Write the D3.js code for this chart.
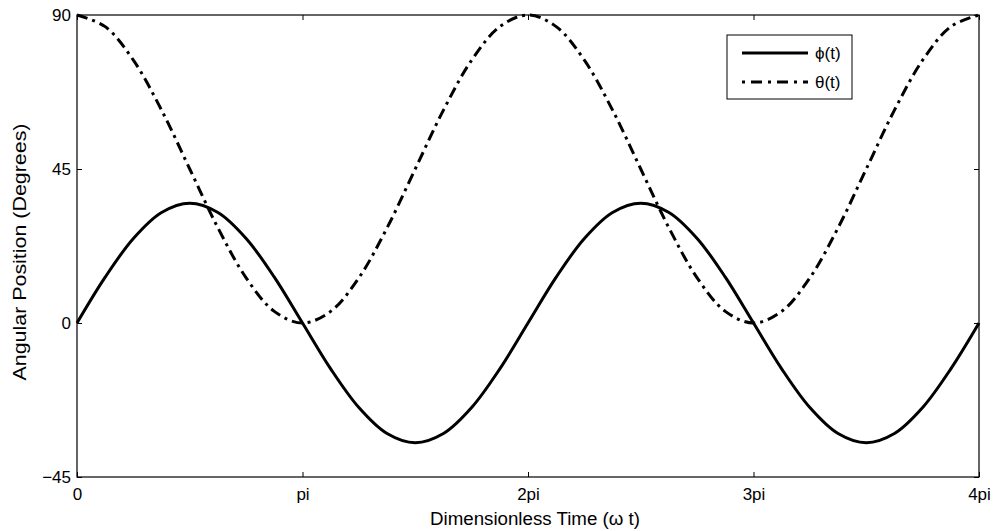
<!DOCTYPE html>
<html>
<head>
<meta charset="utf-8">
<script src="https://cdn.jsdelivr.net/npm/d3@7"></script>
<style>
  body { margin: 0; background: #fff; }
  text { font-family: "Liberation Sans", Arial, sans-serif; fill: #000; }
</style>
</head>
<body>
<svg id="chart" width="997" height="531"></svg>
<script>
// time samples in units of pi (step pi/8)
const tPi = d3.range(0, 33).map((i) => i / 8);
// phi(t), degrees
const phiValues = [
  0, 13.4, 24.7, 32.3, 35, 32.3, 24.7, 13.4, 0, -13.4, -24.7, -32.3, -35, -32.3, -24.7, -13.4,
  0, 13.4, 24.7, 32.3, 35, 32.3, 24.7, 13.4, 0, -13.4, -24.7, -32.3, -35, -32.3, -24.7, -13.4, 0
];
// theta(t), degrees
const thetaValues = [
  90, 86.6, 76.8, 62.2, 45, 27.8, 13.2, 3.4, 0, 3.4, 13.2, 27.8, 45, 62.2, 76.8, 86.6,
  90, 86.6, 76.8, 62.2, 45, 27.8, 13.2, 3.4, 0, 3.4, 13.2, 27.8, 45, 62.2, 76.8, 86.6, 90
];
const xTicks = [0, 1, 2, 3, 4];
const xTickLabels = ['0', 'pi', '2pi', '3pi', '4pi'];
const yTicks = [-45, 0, 45, 90];

const svg = d3.select('#chart');
const margin = { top: 15, right: 18, bottom: 54, left: 77 };
const width = 997, height = 531;
const w = width - margin.left - margin.right;
const h = height - margin.top - margin.bottom;

const x = d3.scaleLinear().domain([0, 4]).range([0, w]);
const y = d3.scaleLinear().domain([-45, 90]).range([h, 0]);

const g = svg.append('g').attr('transform', `translate(${margin.left},${margin.top})`);

// axes with inward ticks (MATLAB style)
const tickLen = 5;
g.append('g')
  .attr('transform', `translate(0,${h})`)
  .call(d3.axisBottom(x).tickValues(xTicks).tickFormat((d, i) => xTickLabels[i]).tickSizeInner(-tickLen).tickSizeOuter(0).tickPadding(11))
  .call((a) => a.select('.domain').remove());
g.append('g')
  .call(d3.axisTop(x).tickValues(xTicks).tickFormat('').tickSizeInner(-tickLen).tickSizeOuter(0))
  .call((a) => a.select('.domain').remove());
g.append('g')
  .call(d3.axisLeft(y).tickValues(yTicks).tickSizeInner(-tickLen).tickSizeOuter(0).tickPadding(6))
  .call((a) => a.select('.domain').remove());
g.append('g')
  .attr('transform', `translate(${w},0)`)
  .call(d3.axisRight(y).tickValues(yTicks).tickFormat('').tickSizeInner(-tickLen).tickSizeOuter(0))
  .call((a) => a.select('.domain').remove());

g.selectAll('.tick text').style('font-size', '17px').attr('fill', '#000');
g.selectAll('.tick line').attr('stroke', '#000');

const line = (vals) => d3.line()
  .x((d, i) => x(tPi[i]))
  .y((d) => y(d))
  .curve(d3.curveCatmullRom)(vals);

g.append('path')
  .attr('d', line(thetaValues))
  .attr('fill', 'none')
  .attr('stroke', '#000')
  .attr('stroke-width', 3)
  .attr('stroke-dasharray', '11,5,3,5');

g.append('path')
  .attr('d', line(phiValues))
  .attr('fill', 'none')
  .attr('stroke', '#000')
  .attr('stroke-width', 3);

// frame
g.append('rect')
  .attr('width', w).attr('height', h)
  .attr('fill', 'none').attr('stroke', '#000').attr('stroke-width', 1.2);

// legend
const lg = svg.append('g').attr('transform', 'translate(727,35)');
lg.append('rect').attr('width', 125).attr('height', 64)
  .attr('fill', '#fff').attr('stroke', '#000').attr('stroke-width', 1);
const legendItems = [
  { label: 'ϕ(t)', dash: null },
  { label: 'θ(t)', dash: '3,6,11,6' }
];
legendItems.forEach((d, i) => {
  const yy = 18 + i * 29;
  lg.append('line').attr('x1', 15).attr('x2', 81).attr('y1', yy).attr('y2', yy)
    .attr('stroke', '#000').attr('stroke-width', 3)
    .attr('stroke-dasharray', d.dash);
  lg.append('text').attr('x', 88).attr('y', yy + 6).style('font-size', '17px').text(d.label);
});

// axis labels
svg.append('text')
  .attr('x', 535).attr('y', 525)
  .attr('text-anchor', 'middle').style('font-size', '18px')
  .attr('textLength', 210).attr('lengthAdjust', 'spacingAndGlyphs')
  .text('Dimensionless Time (ω t)');
svg.append('text')
  .attr('transform', 'translate(26,252) rotate(-90)')
  .attr('text-anchor', 'middle').style('font-size', '18px')
  .attr('textLength', 257).attr('lengthAdjust', 'spacingAndGlyphs')
  .text('Angular Position (Degrees)');
</script>
</body>
</html>
